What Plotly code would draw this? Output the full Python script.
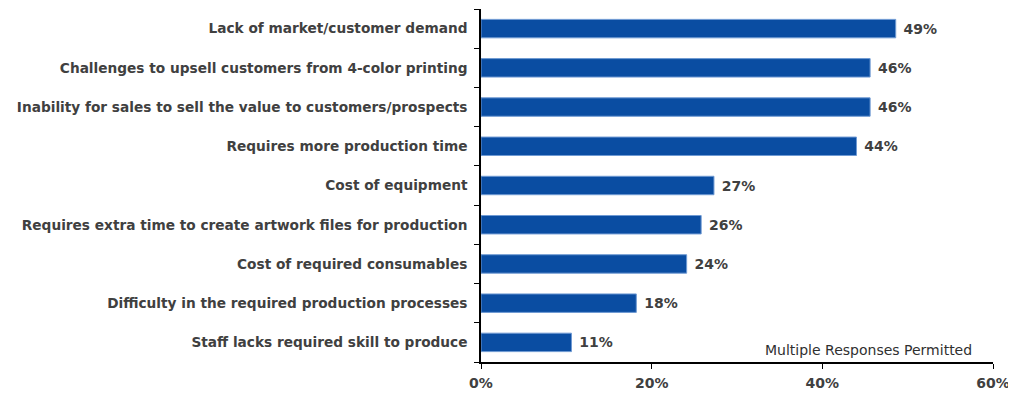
import plotly.graph_objects as go

categories = [
    "Lack of market/customer demand",
    "Challenges to upsell customers from 4-color printing",
    "Inability for sales to sell the value to customers/prospects",
    "Requires more production time",
    "Cost of equipment",
    "Requires extra time to create artwork files for production",
    "Cost of required consumables",
    "Difficulty in the required production processes",
    "Staff lacks required skill to produce",
]
values = [48.6, 45.6, 45.6, 44.0, 27.3, 25.8, 24.1, 18.2, 10.6]
labels = ["49%", "46%", "46%", "44%", "27%", "26%", "24%", "18%", "11%"]
x_ticks = [0, 20, 40, 60]
x_tick_text = ["0%", "20%", "40%", "60%"]
note = "Multiple Responses Permitted"

font_family = "'DejaVu Sans', sans-serif"
text_color = "#404040"

fig = go.Figure(
    go.Bar(
        y=categories,
        x=values,
        orientation="h",
        width=0.47,
        marker=dict(color="#0A4DA2", line=dict(color="#6F9AD3", width=1)),
        text=[" " + t for t in labels],
        textposition="outside",
        cliponaxis=False,
        textfont=dict(family=font_family, size=14, color=text_color, weight="bold"),
    )
)

# page body has an 8px default margin, so the figure is sized to fit the window
fig.update_layout(
    width=1008,
    height=386,
    margin=dict(l=473, r=23, t=1, b=32, autoexpand=False),
    plot_bgcolor="white",
    paper_bgcolor="white",
    showlegend=False,
    font=dict(family=font_family, color=text_color),
    annotations=[
        dict(
            text=note,
            xref="paper",
            yref="paper",
            x=0.962,
            y=0.035,
            xanchor="right",
            yanchor="middle",
            showarrow=False,
            font=dict(family=font_family, size=14, color="#303030"),
        )
    ],
)

fig.update_xaxes(
    range=[0, 60],
    tickvals=x_ticks,
    ticktext=x_tick_text,
    showgrid=False,
    zeroline=False,
    showline=True,
    linecolor="black",
    linewidth=1.5,
    ticks="outside",
    ticklen=5,
    tickcolor="black",
    automargin=False,
    ticklabelstandoff=2,
    tickfont=dict(family=font_family, size=14, color=text_color, weight="bold"),
)

fig.update_yaxes(
    categoryorder="array",
    categoryarray=categories[::-1],
    showgrid=False,
    showline=True,
    linecolor="black",
    linewidth=1.5,
    ticks="outside",
    ticklen=5,
    tickcolor="black",
    tickson="boundaries",
    automargin=False,
    ticklabelstandoff=9,
    tickfont=dict(family=font_family, size=13.7, color=text_color, weight="bold"),
)

fig.write_html("out.html")
